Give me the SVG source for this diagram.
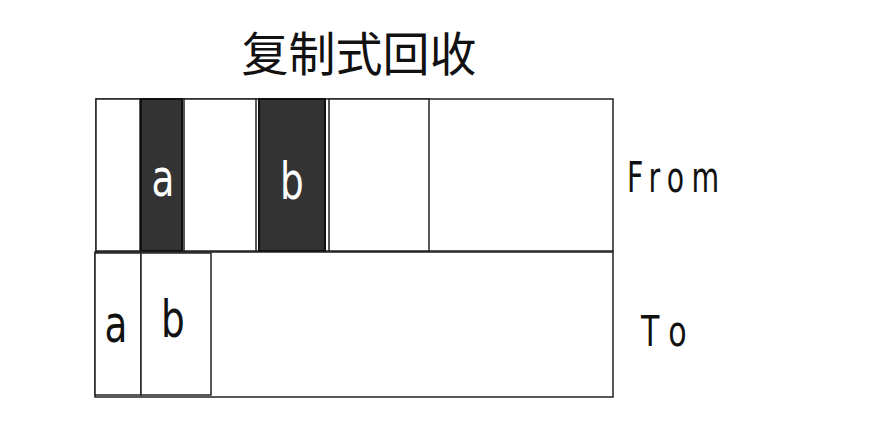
<svg xmlns="http://www.w3.org/2000/svg" width="888" height="440" viewBox="0 0 888 440">
<style>
.box{fill:#fff;stroke:#222;stroke-width:1.5}
.dark{fill:#333;stroke:#111;stroke-width:2}
.lbl{font-family:"DejaVu Sans","Noto Sans",sans-serif;font-size:52px;text-anchor:middle}
.side{font-family:"DejaVu Sans","Noto Sans",sans-serif;font-size:43px}
</style>
<rect width="888" height="440" fill="#fff"/>
<text x="359" y="71" font-family="'Noto Sans CJK SC',sans-serif" font-size="47" text-anchor="middle" fill="#111">复制式回收</text>
<g id="from">
<rect class="box" x="96" y="99" width="517" height="152"/>
<rect class="box" x="96" y="99" width="44" height="152"/>
<rect class="box" x="184" y="99" width="72" height="152"/>
<rect class="box" x="329" y="99" width="100" height="152"/>
</g>
<g id="from-a">
<rect class="dark" x="141" y="99" width="41" height="152"/>
<text class="lbl" transform="translate(163,196) scale(0.72,1)" fill="#fff">a</text>
</g>
<g id="from-b">
<rect class="dark" x="259" y="99" width="66" height="152"/>
<text class="lbl" transform="translate(292,199) scale(0.72,1)" fill="#fff">b</text>
</g>
<g id="to">
<rect class="box" x="95" y="252" width="518" height="145"/>
</g>
<g id="to-a">
<rect class="box" x="95" y="253" width="46" height="142"/>
<text class="lbl" transform="translate(116,342) scale(0.72,1)" fill="#111">a</text>
</g>
<g id="to-b">
<rect class="box" x="141" y="253" width="70" height="142"/>
<text class="lbl" transform="translate(173,337) scale(0.72,1)" fill="#111">b</text>
</g>
<text class="side" transform="translate(627,192) scale(0.66,1)" letter-spacing="11" fill="#111">From</text>
<text class="side" transform="translate(641,346) scale(0.7,1)" letter-spacing="20" fill="#111">To</text>
<g id="connectors"/>
</svg>
